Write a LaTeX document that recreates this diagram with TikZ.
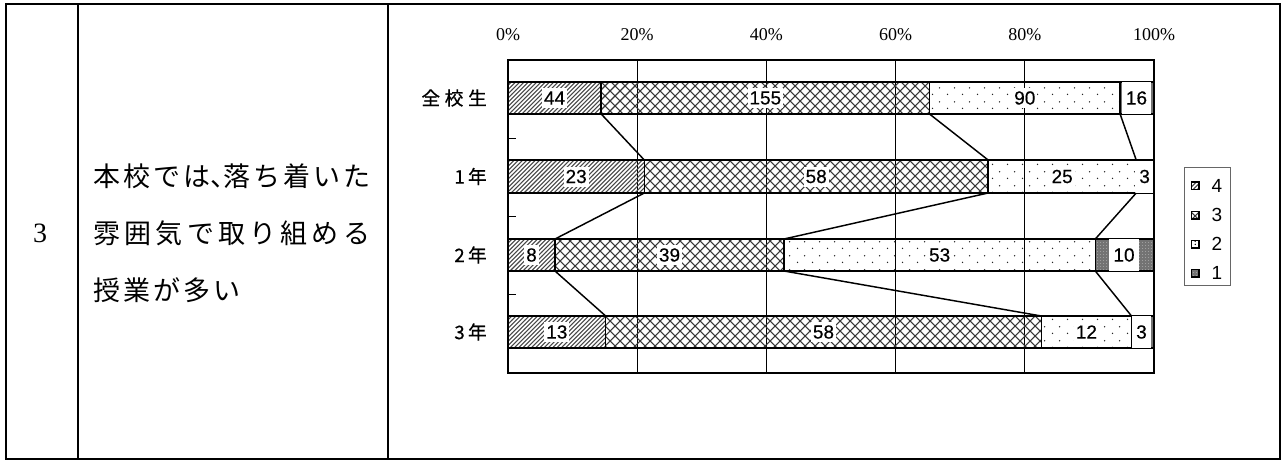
\documentclass[tikz,border=0pt]{standalone}
\usepackage{fontspec}
\setmainfont{Liberation Serif}
\setsansfont{Liberation Sans}
\newfontfamily\jpfont{Noto Sans CJK JP}
\newfontfamily\jpcatfont[FakeBold=0.6]{Noto Sans CJK JP}
\newfontfamily\lblfamily[FakeBold=0.4]{Liberation Sans}
\usetikzlibrary{patterns}

\pgfdeclarepatternformonly{hatchfour}{\pgfqpoint{-1pt}{-1pt}}{\pgfqpoint{4.2pt}{4.2pt}}{\pgfqpoint{3.2pt}{3.2pt}}{%
  \pgfsetlinewidth{0.8pt}%
  \pgfpathmoveto{\pgfqpoint{0pt}{0pt}}\pgfpathlineto{\pgfqpoint{3.3pt}{3.3pt}}\pgfusepath{stroke}}
\pgfdeclarepatternformonly{crossthree}{\pgfqpoint{-0.5pt}{-0.5pt}}{\pgfqpoint{8pt}{8pt}}{\pgfqpoint{7.5pt}{7.5pt}}{%
  \pgfsetlinewidth{0.8pt}%
  \pgfpathmoveto{\pgfqpoint{0pt}{0pt}}\pgfpathlineto{\pgfqpoint{7.5pt}{7.5pt}}%
  \pgfpathmoveto{\pgfqpoint{0pt}{7.5pt}}\pgfpathlineto{\pgfqpoint{7.5pt}{0pt}}\pgfusepath{stroke}}
\pgfdeclarepatternformonly{dotstwo}{\pgfqpoint{0pt}{0pt}}{\pgfqpoint{11.25pt}{10.5pt}}{\pgfqpoint{11.25pt}{10.5pt}}{%
  \pgfpathcircle{\pgfqpoint{2pt}{2pt}}{0.6pt}%
  \pgfpathcircle{\pgfqpoint{7.6pt}{7.25pt}}{0.6pt}\pgfusepath{fill}}
\pgfdeclarepatternformonly{speckle}{\pgfqpoint{0pt}{0pt}}{\pgfqpoint{2.4pt}{2.4pt}}{\pgfqpoint{2.4pt}{2.4pt}}{%
  \pgfpathcircle{\pgfqpoint{0.6pt}{0.6pt}}{0.35pt}\pgfusepath{fill}}

\newcommand\lblfont{\lblfamily\fontsize{14.25pt}{16pt}\selectfont}
\newcommand\legfont{\sffamily\fontsize{14.25pt}{16pt}\selectfont}
\newcommand\pctfont{\rmfamily\fontsize{13.5pt}{15pt}\selectfont}
\newcommand\catfont{\jpcatfont\fontsize{14pt}{16pt}\selectfont}
\newcommand\bodyfont{\jpfont\fontsize{20.25pt}{24pt}\selectfont}

\tikzset{
  segfour/.style={draw=black, line width=1.1pt, pattern=hatchfour, pattern color=black!72},
  segthree/.style={draw=black, line width=1.1pt, pattern=crossthree, pattern color=black!78},
  segtwo/.style={draw=black, line width=1.1pt, pattern=dotstwo, pattern color=black!85},
  segone/.style={draw=black, line width=1.1pt, preaction={fill=black!55}, pattern=speckle, pattern color=white!85!black},
  lbl/.style={fill=white, font=\lblfont, inner xsep=1.5pt, inner ysep=0pt, minimum height=15pt},
  lblone/.style={lbl, inner xsep=3pt, minimum height=24pt},
  grid/.style={line width=0.75pt, black},
  frame/.style={line width=1.1pt, black},
  serline/.style={line width=1.1pt, black},
  pct/.style={font=\pctfont, inner sep=0pt},
  cat/.style={font=\catfont, anchor=east, inner sep=0pt},
  tbl/.style={line width=1.5pt, black},
  body/.style={font=\bodyfont, anchor=base west, inner sep=0pt},
  legbox/.style={draw=black!60, line width=0.75pt},
  legsw/.style={line width=1.2pt},
  legtxt/.style={font=\legfont, inner sep=0pt}
}

\begin{document}
\begin{tikzpicture}[x=0.75pt, y=-0.75pt]
\useasboundingbox (0,0) rectangle (1282,461);
\fill[white] (0,0) rectangle (1282,461);

% ---- table ----
\draw[tbl] (6,4) rectangle (1279.5,458.5);
\draw[tbl] (78,4) -- (78,458.5);
\draw[tbl] (388,4) -- (388,458.5);
\node[font=\rmfamily\fontsize{21pt}{24pt}\selectfont, inner sep=0pt] (num) at (40,233) {3};
\node[body] (t1) at (93,186) {\makebox[207.75pt][l]{本\hfill 校\hfill で\hfill は\makebox[0.5em][l]{、}落\hfill ち\hfill 着\hfill い\hfill た}};
\node[body] (t2) at (93,243) {\makebox[207.75pt][l]{雰\hfill 囲\hfill 気\hfill で\hfill 取\hfill り\hfill 組\hfill め\hfill る}};
\node[body] (t3) at (93,300) {\makebox[110.25pt][l]{授\hfill 業\hfill が\hfill 多\hfill い}};

% ---- axis labels ----
\node[pct] (p0) at (508,35) {0\%};
\node[pct] (p20) at (637.2,35) {20\%};
\node[pct] (p40) at (766.4,35) {40\%};
\node[pct] (p60) at (895.6,35) {60\%};
\node[pct] (p80) at (1024.8,35) {80\%};
\node[pct] (p100) at (1154,35) {100\%};

% ---- grid ----
\foreach \gx in {637.2,766.4,895.6,1024.8} \draw[grid] (\gx,60) -- (\gx,373);
\foreach \ty in {138.25,216.5,294.75} \draw[grid] (508,\ty) -- (516,\ty);

% ---- category labels ----
\node[cat] (cA) at (487,98) {全\hspace{3.5pt}校\hspace{3.5pt}生};
\node[cat] (cB) at (487,176.5) {1\hspace{2.5pt}年};
\node[cat] (cC) at (487,255) {2\hspace{2.5pt}年};
\node[cat] (cD) at (487,332) {3\hspace{2.5pt}年};

% ---- bars ----
% 全校生
\draw[segfour]  (508,82) rectangle (601.2,114);
\draw[segthree] (601.2,82) rectangle (929.5,114);
\draw[segtwo]   (929.5,82) rectangle (1120.1,114);
\draw[segone]   (1120.1,82) rectangle (1154,114);
% 1年
\draw[segfour]  (508,160) rectangle (644.3,193);
\draw[segthree] (644.3,160) rectangle (988.1,193);
\draw[segtwo]   (988.1,160) rectangle (1136.2,193);
\draw[segone]   (1136.2,160) rectangle (1154,193);
% 2年
\draw[segfour]  (508,239) rectangle (555.0,271);
\draw[segthree] (555.0,239) rectangle (784.0,271);
\draw[segtwo]   (784.0,239) rectangle (1095.3,271);
\draw[segone]   (1095.3,239) rectangle (1154,271);
% 3年
\draw[segfour]  (508,316) rectangle (605.7,348);
\draw[segthree] (605.7,316) rectangle (1041.3,348);
\draw[segtwo]   (1041.3,316) rectangle (1131.5,348);
\draw[segone]   (1131.5,316) rectangle (1154,348);

% ---- data labels ----
\node[lbl] (lA4) at (554.6,98) {44};
\node[lbl] (lA3) at (765.35,98) {155};
\node[lbl] (lA2) at (1024.8,98) {90};
\node[lblone] (lA1) at (1136.5,98) {16};
\node[lbl] (lB4) at (576.15,176.5) {23};
\node[lbl] (lB3) at (816.2,176.5) {58};
\node[lbl] (lB2) at (1062.15,176.5) {25};
\node[lblone] (lB1) at (1144.6,176.5) {3};
\node[lbl] (lC4) at (531.5,255) {8};
\node[lbl] (lC3) at (669.5,255) {39};
\node[lbl] (lC2) at (939.65,255) {53};
\node[lblone] (lC1) at (1124,255) {10};
\node[lbl] (lD4) at (556.85,332) {13};
\node[lbl] (lD3) at (823.5,332) {58};
\node[lbl] (lD2) at (1086.4,332) {12};
\node[lblone] (lD1) at (1141.5,332) {3};

% ---- plot frame ----
\draw[frame] (508,60) rectangle (1154,373);

% ---- series lines ----
\coordinate (Ab1) at (601.2,114); \coordinate (Ab2) at (929.5,114); \coordinate (Ab3) at (1120.1,114);
\coordinate (Bt1) at (644.3,160); \coordinate (Bt2) at (988.1,160); \coordinate (Bt3) at (1136.2,160);
\coordinate (Bb1) at (644.3,193); \coordinate (Bb2) at (988.1,193); \coordinate (Bb3) at (1136.2,193);
\coordinate (Ct1) at (555.0,239); \coordinate (Ct2) at (784.0,239); \coordinate (Ct3) at (1095.3,239);
\coordinate (Cb1) at (555.0,271); \coordinate (Cb2) at (784.0,271); \coordinate (Cb3) at (1095.3,271);
\coordinate (Dt1) at (605.7,316); \coordinate (Dt2) at (1041.3,316); \coordinate (Dt3) at (1131.5,316);
\draw[serline] (Ab1) -- (Bt1);
\draw[serline] (Ab2) -- (Bt2);
\draw[serline] (Ab3) -- (Bt3);
\draw[serline] (Bb1) -- (Ct1);
\draw[serline] (Bb2) -- (Ct2);
\draw[serline] (Bb3) -- (Ct3);
\draw[serline] (Cb1) -- (Dt1);
\draw[serline] (Cb2) -- (Dt2);
\draw[serline] (Cb3) -- (Dt3);

% ---- legend ----
\draw[legbox] (1184,167) rectangle (1230,285);
\draw[segfour, legsw]  (1191.5,182) rectangle (1199,189.5);
\draw[segthree, legsw] (1191.5,211.3) rectangle (1199,218.8);
\draw[segtwo, legsw]   (1191.5,240.6) rectangle (1199,248.1);
\fill[black] (1195.25,244.35) circle (0.7);
\draw[segone, legsw]   (1191.5,269.6) rectangle (1199,277.1);
\node[legtxt] (g4) at (1217,185.7) {4};
\node[legtxt] (g3) at (1217,215) {3};
\node[legtxt] (g2) at (1217,244.3) {2};
\node[legtxt] (g1) at (1217,273.3) {1};
\end{tikzpicture}
\end{document}
